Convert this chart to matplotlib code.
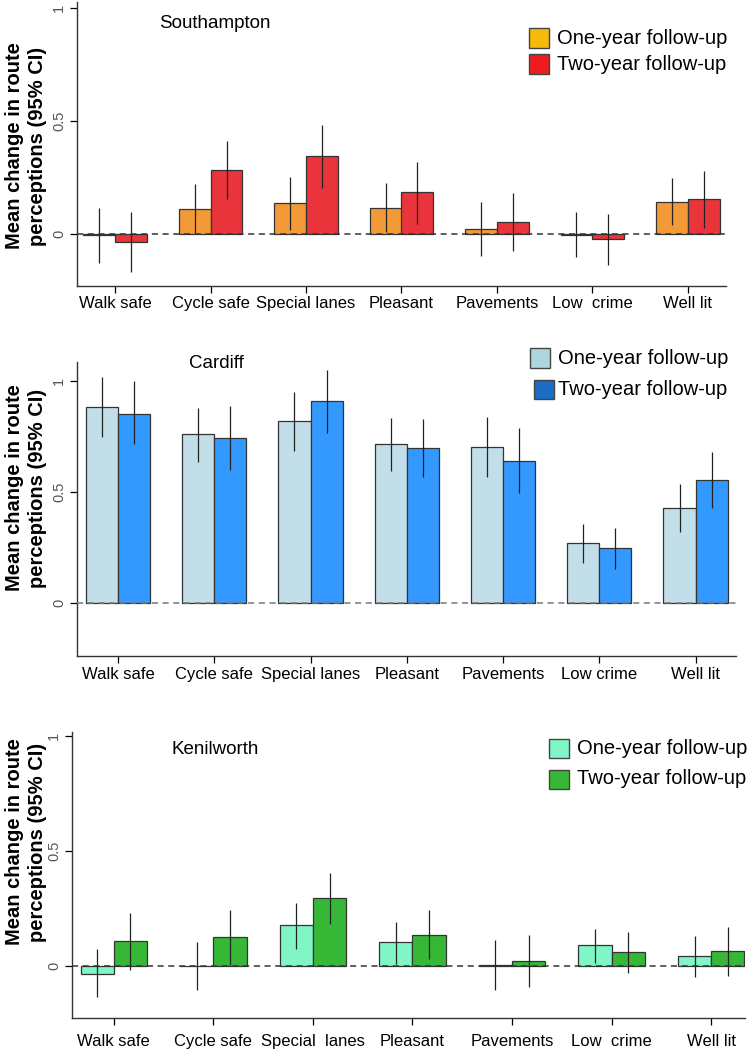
import matplotlib
matplotlib.use("Agg")
import matplotlib.pyplot as plt
from matplotlib.patches import Rectangle
import numpy as np

plt.rcParams['font.family'] = ['Liberation Sans', 'DejaVu Sans']

items = ['Walk safe', 'Cycle safe', 'Special lanes', 'Pleasant', 'Pavements', 'Low crime', 'Well lit']
items_ken = ['Walk safe', 'Cycle safe', 'Special  lanes', 'Pleasant', 'Pavements', 'Low  crime', 'Well lit']
items_sot = ['Walk safe', 'Cycle safe', 'Special lanes', 'Pleasant', 'Pavements', 'Low  crime', 'Well lit']

# Southampton
sot_one = [-0.005, 0.110, 0.138, 0.114, 0.024, -0.004, 0.144]
sot_one_lo = [-0.126, 0.003, 0.019, 0.007, -0.095, -0.102, 0.040]
sot_one_hi = [0.114, 0.223, 0.252, 0.225, 0.144, 0.096, 0.248]
sot_two = [-0.036, 0.285, 0.347, 0.185, 0.053, -0.021, 0.157]
sot_two_lo = [-0.168, 0.156, 0.202, 0.045, -0.074, -0.138, 0.028]
sot_two_hi = [0.096, 0.412, 0.485, 0.319, 0.182, 0.090, 0.280]

# Cardiff
car_one = [0.882, 0.762, 0.820, 0.718, 0.705, 0.273, 0.430]
car_one_lo = [0.750, 0.634, 0.687, 0.595, 0.567, 0.183, 0.319]
car_one_hi = [1.016, 0.879, 0.951, 0.835, 0.840, 0.358, 0.537]
car_two = [0.853, 0.744, 0.912, 0.700, 0.642, 0.247, 0.555]
car_two_lo = [0.715, 0.600, 0.768, 0.567, 0.498, 0.153, 0.430]
car_two_hi = [0.998, 0.888, 1.048, 0.829, 0.787, 0.340, 0.679]

# Kenilworth
ken_one = [-0.035, 0.000, 0.177, 0.103, 0.004, 0.093, 0.042]
ken_one_lo = [-0.137, -0.105, 0.076, 0.007, -0.105, 0.015, -0.049]
ken_one_hi = [0.076, 0.105, 0.276, 0.192, 0.112, 0.163, 0.131]
ken_two = [0.108, 0.126, 0.294, 0.135, 0.023, 0.061, 0.065]
ken_two_lo = [-0.017, 0.003, 0.183, 0.029, -0.092, -0.032, -0.045]
ken_two_hi = [0.230, 0.243, 0.403, 0.243, 0.137, 0.150, 0.169]

W, H = 754, 1054
fig = plt.figure(figsize=(W / 100, H / 100), dpi=100)


def px_axes(x0, x1, y0, y1):
    return fig.add_axes([x0 / W, 1 - y1 / H, (x1 - x0) / W, (y1 - y0) / H])


def panel(ax, labels, one, one_lo, one_hi, two, two_lo, two_hi, c1, c2, xlim, ylim, xpad, zc):
    x = np.arange(len(labels))
    w = 1 / 3
    ax.bar(x - w / 2, one, w, color=c1, edgecolor='#333333', linewidth=0.9, zorder=2)
    ax.bar(x + w / 2, two, w, color=c2, edgecolor='#333333', linewidth=0.9, zorder=2)
    ax.vlines(x - w / 2, one_lo, one_hi, color='#222222', linewidth=0.9, zorder=3)
    ax.vlines(x + w / 2, two_lo, two_hi, color='#222222', linewidth=0.9, zorder=3)
    ax.axhline(0, color=zc, linestyle=(0, (4, 3)), linewidth=1.1, zorder=4)
    ax.set_xlim(*xlim)
    ax.set_ylim(*ylim)
    ax.set_xticks(x)
    ax.set_xticklabels(labels, fontsize=12)
    ax.set_yticks([0, 0.5, 1])
    ax.set_yticklabels(['0', '0.5', '1'], rotation=90, va='center', color='#555555', fontsize=10.5)
    ax.tick_params(axis='x', length=5, width=0.9, pad=xpad)
    ax.tick_params(axis='y', length=5, width=0.9, pad=3)
    for s in ['top', 'right']:
        ax.spines[s].set_visible(False)
    for s in ['left', 'bottom']:
        ax.spines[s].set_color('#333333')
        ax.spines[s].set_linewidth(1.0)


def legend(x, y1, y2, c1, c2, dx2=0, size=14.5):
    bw, bh = 20, 19
    for yy, c, t, d in [(y1, c1, 'One-year follow-up', 0), (y2, c2, 'Two-year follow-up', dx2)]:
        fig.patches.append(Rectangle(((x + d) / W, 1 - (yy + bh / 2) / H), bw / W, bh / H,
                                     transform=fig.transFigure, facecolor=c,
                                     edgecolor='#444444', linewidth=1.0))
        fig.text((x + 28) / W, 1 - yy / H, t, fontsize=size, va='center', ha='left')


def ylabel(cy):
    fig.text(15 / W, 1 - cy / H, 'Mean change in route', rotation=90, fontsize=14.5,
             fontweight='bold', va='center', ha='center')
    fig.text(38 / W, 1 - cy / H, 'perceptions (95% CI)', rotation=90, fontsize=14.5,
             fontweight='bold', va='center', ha='center')


# Southampton
ax1 = px_axes(77, 726, 1.5, 286)
panel(ax1, items_sot, sot_one, sot_one_lo, sot_one_hi, sot_two, sot_two_lo, sot_two_hi,
      '#F39A38', '#E8343A', (-0.40, 6.40), (-0.23, 1.03), 2, '#333333')
fig.text(215 / W, 1 - 23 / H, 'Southampton', fontsize=13.5, ha='center', va='center')
legend(529, 38, 64, '#F8BA0A', '#EE1C1C')
ylabel(146)

# Cardiff
ax2 = px_axes(77, 736, 361.7, 656)
panel(ax2, items, car_one, car_one_lo, car_one_hi, car_two, car_two_lo, car_two_hi,
      '#C2DEE8', '#3399FF', (-0.426, 6.42), (-0.237, 1.087), 3, '#777777')
fig.text(216 / W, 1 - 363 / H, 'Cardiff', fontsize=13.5, ha='center', va='center')
legend(530, 358, 389, '#AED6DD', '#1C6DC8', dx2=4)
ylabel(488)

# Kenilworth
ax3 = px_axes(72, 745, 731.7, 1017.7)
panel(ax3, items_ken, ken_one, ken_one_lo, ken_one_hi, ken_two, ken_two_lo, ken_two_hi,
      '#80F5C6', '#36B836', (-0.42, 6.34), (-0.225, 1.02), 7, '#333333')
fig.text(215 / W, 1 - 750 / H, 'Kenilworth', fontsize=13.5, ha='center', va='center')
legend(549, 748, 779, '#80F5C6', '#36B836')
ylabel(842)

fig.savefig('out.png', dpi=100)
